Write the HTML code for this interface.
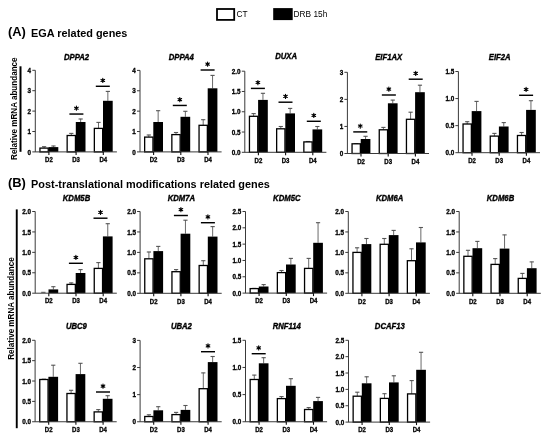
<!DOCTYPE html>
<html><head><meta charset="utf-8">
<style>
html,body{margin:0;padding:0;background:#fff;}
body{width:550px;height:441px;overflow:hidden;}
svg{display:block;will-change:transform;filter:blur(0.25px);}
text{font-family:"Liberation Sans", sans-serif;}
.t{font-weight:bold;font-style:italic;font-size:8.3px;text-anchor:middle;stroke:#000;stroke-width:0.35;}
.y{font-weight:bold;font-size:6.3px;text-anchor:end;stroke:#000;stroke-width:0.3;}
.x{font-weight:bold;font-size:6.5px;text-anchor:middle;stroke:#000;stroke-width:0.3;}
.a{stroke:#3a3a3a;stroke-width:1.0;fill:none;}
.xt{stroke:#111;stroke-width:1.1;fill:none;}
.e{stroke:#444;stroke-width:0.8;fill:none;}
.ec{stroke:#555;stroke-width:1.1;fill:none;}
.w{fill:#fff;stroke:#000;stroke-width:1.3;}
.s{stroke:#000;stroke-width:1.45;fill:none;}
.st{stroke:#000;stroke-width:1.1;fill:none;stroke-linecap:round;}
.h1{font-size:12.3px;font-weight:bold;}
.h2{font-weight:bold;font-size:10.88px;}
.lg{font-size:8.3px;}
.ya{font-size:8.8px;font-weight:bold;text-anchor:middle;}
</style></head>
<body>
<svg width="550" height="441" viewBox="0 0 550 441">
<rect x="0" y="0" width="550" height="441" fill="#fff"/>
<!-- legend -->
<rect x="217" y="9" width="17.2" height="10.9" fill="#fff" stroke="#000" stroke-width="1.8"/>
<text x="236.6" y="17" class="lg">CT</text>
<rect x="273.2" y="8.1" width="19.5" height="12" fill="#000"/>
<text x="293.6" y="17" class="lg">DRB 15h</text>
<!-- headings -->
<text transform="translate(7.9,35.9) scale(1.05,1)" class="h1">(A)</text>
<text x="31.1" y="36.6" class="h2">EGA related genes</text>
<text transform="translate(7.9,187.0) scale(1.05,1)" class="h1">(B)</text>
<text x="31.1" y="187.8" class="h2">Post-translational modifications related genes</text>
<!-- y axis titles -->
<text transform="translate(17.1,108.7) rotate(-90) scale(0.92,1)" class="ya">Relative mRNA abundance</text>
<rect x="19.5" y="66.3" width="2" height="85.5" fill="#000"/>
<text transform="translate(14.4,308.6) rotate(-90) scale(0.92,1)" class="ya">Relative mRNA abundance</text>
<rect x="15.8" y="209.4" width="1.9" height="218.8" fill="#000"/>
<text transform="translate(76.6,59.5) scale(0.93,1)" class="t">DPPA2</text>
<path d="M44.1 148.1V146.5" class="e"/><path d="M42 146.7H46.2" class="ec"/>
<path d="M53.45 147.1V145.8" class="e"/><path d="M51.35 146H55.55" class="ec"/>
<rect x="39.95" y="148.1" width="8.3" height="3.8" class="w"/>
<rect x="48.6" y="147.1" width="9.7" height="4.8" fill="#000"/>
<path d="M71.3 135.5V133.2" class="e"/><path d="M69.2 133.4H73.4" class="ec"/>
<path d="M80.65 122V118.8" class="e"/><path d="M78.55 119H82.75" class="ec"/>
<rect x="67.15" y="135.5" width="8.3" height="16.4" class="w"/>
<rect x="75.8" y="122" width="9.7" height="29.9" fill="#000"/>
<path d="M98.5 128.4V122.2" class="e"/><path d="M96.4 122.4H100.6" class="ec"/>
<path d="M107.85 100.8V91.2" class="e"/><path d="M105.75 91.4H109.95" class="ec"/>
<rect x="94.35" y="128.4" width="8.3" height="23.5" class="w"/>
<rect x="103" y="100.8" width="9.7" height="51.1" fill="#000"/>
<path d="M35.3 70.3V151.9M32.3 151.9H116.9" class="a"/>
<text x="31.1" y="154.5" class="y">0</text>
<path d="M32.3 131.5H35.3" class="a"/>
<text x="31.1" y="134.1" class="y">1</text>
<path d="M32.3 111.1H35.3" class="a"/>
<text x="31.1" y="113.7" class="y">2</text>
<path d="M32.3 90.7H35.3" class="a"/>
<text x="31.1" y="93.3" class="y">3</text>
<path d="M32.3 70.3H35.3" class="a"/>
<text x="31.1" y="72.9" class="y">4</text>
<path d="M48.9 151.9V154.9" class="xt"/>
<text transform="translate(48.9,162.1) scale(0.93,1)" class="x">D2</text>
<path d="M76.1 151.9V154.9" class="xt"/>
<text transform="translate(76.1,162.1) scale(0.93,1)" class="x">D3</text>
<path d="M103.3 151.9V154.9" class="xt"/>
<text transform="translate(103.3,162.1) scale(0.93,1)" class="x">D4</text>
<path d="M69.4 114.05H83.4" class="s"/>
<path d="M76.4 106.1V110.3M74.58 107.15L78.22 109.25M74.58 109.25L78.22 107.15" class="st"/><circle cx="76.4" cy="108.2" r="1.1"/>
<path d="M95.8 86.3H109.8" class="s"/>
<path d="M102.8 78.35V82.55M100.98 79.4L104.62 81.5M100.98 81.5L104.62 79.4" class="st"/><circle cx="102.8" cy="80.45" r="1.1"/>
<text transform="translate(181.3,59.5) scale(0.93,1)" class="t">DPPA4</text>
<path d="M148.8 137.1V134.8" class="e"/><path d="M146.7 135H150.9" class="ec"/>
<path d="M158.15 122V110.5" class="e"/><path d="M156.05 110.7H160.25" class="ec"/>
<rect x="144.65" y="137.1" width="8.3" height="14.8" class="w"/>
<rect x="153.3" y="122" width="9.7" height="29.9" fill="#000"/>
<path d="M176 134.6V132.3" class="e"/><path d="M173.9 132.5H178.1" class="ec"/>
<path d="M185.35 116.8V111.1" class="e"/><path d="M183.25 111.3H187.45" class="ec"/>
<rect x="171.85" y="134.6" width="8.3" height="17.3" class="w"/>
<rect x="180.5" y="116.8" width="9.7" height="35.1" fill="#000"/>
<path d="M203.2 125.3V119.5" class="e"/><path d="M201.1 119.7H205.3" class="ec"/>
<path d="M212.55 88.3V75.2" class="e"/><path d="M210.45 75.4H214.65" class="ec"/>
<rect x="199.05" y="125.3" width="8.3" height="26.6" class="w"/>
<rect x="207.7" y="88.3" width="9.7" height="63.6" fill="#000"/>
<path d="M140 70.4V151.9M137 151.9H221.6" class="a"/>
<text x="135.8" y="154.5" class="y">0</text>
<path d="M137 131.53H140" class="a"/>
<text x="135.8" y="134.12" class="y">1</text>
<path d="M137 111.15H140" class="a"/>
<text x="135.8" y="113.75" class="y">2</text>
<path d="M137 90.78H140" class="a"/>
<text x="135.8" y="93.38" class="y">3</text>
<path d="M137 70.4H140" class="a"/>
<text x="135.8" y="73" class="y">4</text>
<path d="M153.6 151.9V154.9" class="xt"/>
<text transform="translate(153.6,162.1) scale(0.93,1)" class="x">D2</text>
<path d="M180.8 151.9V154.9" class="xt"/>
<text transform="translate(180.8,162.1) scale(0.93,1)" class="x">D3</text>
<path d="M208 151.9V154.9" class="xt"/>
<text transform="translate(208,162.1) scale(0.93,1)" class="x">D4</text>
<path d="M172.8 105.45H186.8" class="s"/>
<path d="M179.8 97.5V101.7M177.98 98.55L181.62 100.65M177.98 100.65L181.62 98.55" class="st"/><circle cx="179.8" cy="99.6" r="1.1"/>
<path d="M200.6 70H214.6" class="s"/>
<path d="M207.6 62.05V66.25M205.78 63.1L209.42 65.2M205.78 65.2L209.42 63.1" class="st"/><circle cx="207.6" cy="64.15" r="1.1"/>
<text transform="translate(286.1,59) scale(0.93,1)" class="t">DUXA</text>
<path d="M253.6 116.3V113.4" class="e"/><path d="M251.5 113.6H255.7" class="ec"/>
<path d="M262.95 99.9V93.1" class="e"/><path d="M260.85 93.3H265.05" class="ec"/>
<rect x="249.45" y="116.3" width="8.3" height="36" class="w"/>
<rect x="258.1" y="99.9" width="9.7" height="52.4" fill="#000"/>
<path d="M280.8 128.8V126.3" class="e"/><path d="M278.7 126.5H282.9" class="ec"/>
<path d="M290.15 113.4V108.2" class="e"/><path d="M288.05 108.4H292.25" class="ec"/>
<rect x="276.65" y="128.8" width="8.3" height="23.5" class="w"/>
<rect x="285.3" y="113.4" width="9.7" height="38.9" fill="#000"/>
<path d="M308 141.9V141.3" class="e"/><path d="M305.9 141.5H310.1" class="ec"/>
<path d="M317.35 129.4V126.3" class="e"/><path d="M315.25 126.5H319.45" class="ec"/>
<rect x="303.85" y="141.9" width="8.3" height="10.4" class="w"/>
<rect x="312.5" y="129.4" width="9.7" height="22.9" fill="#000"/>
<path d="M244.8 71.2V152.3M241.8 152.3H326.4" class="a"/>
<text x="240.6" y="154.9" class="y">0.0</text>
<path d="M241.8 132.03H244.8" class="a"/>
<text x="240.6" y="134.62" class="y">0.5</text>
<path d="M241.8 111.75H244.8" class="a"/>
<text x="240.6" y="114.35" class="y">1.0</text>
<path d="M241.8 91.48H244.8" class="a"/>
<text x="240.6" y="94.08" class="y">1.5</text>
<path d="M241.8 71.2H244.8" class="a"/>
<text x="240.6" y="73.8" class="y">2.0</text>
<path d="M258.4 152.3V155.3" class="xt"/>
<text transform="translate(258.4,162.5) scale(0.93,1)" class="x">D2</text>
<path d="M285.6 152.3V155.3" class="xt"/>
<text transform="translate(285.6,162.5) scale(0.93,1)" class="x">D3</text>
<path d="M312.8 152.3V155.3" class="xt"/>
<text transform="translate(312.8,162.5) scale(0.93,1)" class="x">D4</text>
<path d="M250.9 88.4H264.9" class="s"/>
<path d="M257.9 80.45V84.65M256.08 81.5L259.72 83.6M256.08 83.6L259.72 81.5" class="st"/><circle cx="257.9" cy="82.55" r="1.1"/>
<path d="M278.5 102.2H292.5" class="s"/>
<path d="M285.5 94.25V98.45M283.68 95.3L287.32 97.4M283.68 97.4L287.32 95.3" class="st"/><circle cx="285.5" cy="96.35" r="1.1"/>
<path d="M306.8 121.3H320.8" class="s"/>
<path d="M313.8 113.35V117.55M311.98 114.4L315.62 116.5M311.98 116.5L315.62 114.4" class="st"/><circle cx="313.8" cy="115.45" r="1.1"/>
<text transform="translate(388.7,59.5) scale(0.93,1)" class="t">EIF1AX</text>
<path d="M356.2 143.8V143.4" class="e"/><path d="M354.1 143.6H358.3" class="ec"/>
<path d="M365.55 139V136.1" class="e"/><path d="M363.45 136.3H367.65" class="ec"/>
<rect x="352.05" y="143.8" width="8.3" height="9.7" class="w"/>
<rect x="360.7" y="139" width="9.7" height="14.5" fill="#000"/>
<path d="M383.4 129.8V127.2" class="e"/><path d="M381.3 127.4H385.5" class="ec"/>
<path d="M392.75 103.3V99.9" class="e"/><path d="M390.65 100.1H394.85" class="ec"/>
<rect x="379.25" y="129.8" width="8.3" height="23.7" class="w"/>
<rect x="387.9" y="103.3" width="9.7" height="50.2" fill="#000"/>
<path d="M410.6 119.3V112" class="e"/><path d="M408.5 112.2H412.7" class="ec"/>
<path d="M419.95 92.2V85" class="e"/><path d="M417.85 85.2H422.05" class="ec"/>
<rect x="406.45" y="119.3" width="8.3" height="34.2" class="w"/>
<rect x="415.1" y="92.2" width="9.7" height="61.3" fill="#000"/>
<path d="M347.4 72.3V153.5M344.4 153.5H429" class="a"/>
<text x="343.2" y="156.1" class="y">0</text>
<path d="M344.4 126.43H347.4" class="a"/>
<text x="343.2" y="129.03" class="y">1</text>
<path d="M344.4 99.37H347.4" class="a"/>
<text x="343.2" y="101.97" class="y">2</text>
<path d="M344.4 72.3H347.4" class="a"/>
<text x="343.2" y="74.9" class="y">3</text>
<path d="M361 153.5V156.5" class="xt"/>
<text transform="translate(361,163.7) scale(0.93,1)" class="x">D2</text>
<path d="M388.2 153.5V156.5" class="xt"/>
<text transform="translate(388.2,163.7) scale(0.93,1)" class="x">D3</text>
<path d="M415.4 153.5V156.5" class="xt"/>
<text transform="translate(415.4,163.7) scale(0.93,1)" class="x">D4</text>
<path d="M353.25 131.9H367.25" class="s"/>
<path d="M360.25 123.95V128.15M358.43 125L362.07 127.1M358.43 127.1L362.07 125" class="st"/><circle cx="360.25" cy="126.05" r="1.1"/>
<path d="M381.85 95H395.85" class="s"/>
<path d="M388.85 87.05V91.25M387.03 88.1L390.67 90.2M387.03 90.2L390.67 88.1" class="st"/><circle cx="388.85" cy="89.15" r="1.1"/>
<path d="M408.7 79.2H422.7" class="s"/>
<path d="M415.7 71.25V75.45M413.88 72.3L417.52 74.4M413.88 74.4L417.52 72.3" class="st"/><circle cx="415.7" cy="73.35" r="1.1"/>
<text transform="translate(499.7,59.5) scale(0.93,1)" class="t">EIF2A</text>
<path d="M467.2 124V121.5" class="e"/><path d="M465.1 121.7H469.3" class="ec"/>
<path d="M476.55 111.1V101.2" class="e"/><path d="M474.45 101.4H478.65" class="ec"/>
<rect x="463.05" y="124" width="8.3" height="28.7" class="w"/>
<rect x="471.7" y="111.1" width="9.7" height="41.6" fill="#000"/>
<path d="M494.4 136.1V133.2" class="e"/><path d="M492.3 133.4H496.5" class="ec"/>
<path d="M503.75 126.5V122.4" class="e"/><path d="M501.65 122.6H505.85" class="ec"/>
<rect x="490.25" y="136.1" width="8.3" height="16.6" class="w"/>
<rect x="498.9" y="126.5" width="9.7" height="26.2" fill="#000"/>
<path d="M521.6 135.5V132.3" class="e"/><path d="M519.5 132.5H523.7" class="ec"/>
<path d="M530.95 109.9V100.5" class="e"/><path d="M528.85 100.7H533.05" class="ec"/>
<rect x="517.45" y="135.5" width="8.3" height="17.2" class="w"/>
<rect x="526.1" y="109.9" width="9.7" height="42.8" fill="#000"/>
<path d="M458.4 71.5V152.7M455.4 152.7H540" class="a"/>
<text x="454.2" y="155.3" class="y">0.0</text>
<path d="M455.4 125.63H458.4" class="a"/>
<text x="454.2" y="128.23" class="y">0.5</text>
<path d="M455.4 98.57H458.4" class="a"/>
<text x="454.2" y="101.17" class="y">1.0</text>
<path d="M455.4 71.5H458.4" class="a"/>
<text x="454.2" y="74.1" class="y">1.5</text>
<path d="M472 152.7V155.7" class="xt"/>
<text transform="translate(472,162.9) scale(0.93,1)" class="x">D2</text>
<path d="M499.2 152.7V155.7" class="xt"/>
<text transform="translate(499.2,162.9) scale(0.93,1)" class="x">D3</text>
<path d="M526.4 152.7V155.7" class="xt"/>
<text transform="translate(526.4,162.9) scale(0.93,1)" class="x">D4</text>
<path d="M519.1 95.3H533.1" class="s"/>
<path d="M526.1 87.35V91.55M524.28 88.4L527.92 90.5M524.28 90.5L527.92 88.4" class="st"/><circle cx="526.1" cy="89.45" r="1.1"/>
<text transform="translate(76.5,200.6) scale(0.93,1)" class="t">KDM5B</text>
<path d="M53.35 289.4V286.5" class="e"/><path d="M51.25 286.7H55.45" class="ec"/>
<path d="M41.2 292.3H45.5" stroke="#444" stroke-width="0.9"/>
<rect x="48.5" y="289.4" width="9.7" height="3.8" fill="#000"/>
<path d="M71.2 284.4V282.7" class="e"/><path d="M69.1 282.9H73.3" class="ec"/>
<path d="M80.55 273V269.4" class="e"/><path d="M78.45 269.6H82.65" class="ec"/>
<rect x="67.05" y="284.4" width="8.3" height="8.8" class="w"/>
<rect x="75.7" y="273" width="9.7" height="20.2" fill="#000"/>
<path d="M98.4 268.4V262.4" class="e"/><path d="M96.3 262.6H100.5" class="ec"/>
<path d="M107.75 236.4V223.5" class="e"/><path d="M105.65 223.7H109.85" class="ec"/>
<rect x="94.25" y="268.4" width="8.3" height="24.8" class="w"/>
<rect x="102.9" y="236.4" width="9.7" height="56.8" fill="#000"/>
<path d="M35.2 211.5V293.2M32.2 293.2H116.8" class="a"/>
<text x="31" y="295.8" class="y">0.0</text>
<path d="M32.2 272.77H35.2" class="a"/>
<text x="31" y="275.38" class="y">0.5</text>
<path d="M32.2 252.35H35.2" class="a"/>
<text x="31" y="254.95" class="y">1.0</text>
<path d="M32.2 231.93H35.2" class="a"/>
<text x="31" y="234.53" class="y">1.5</text>
<path d="M32.2 211.5H35.2" class="a"/>
<text x="31" y="214.1" class="y">2.0</text>
<path d="M48.8 293.2V296.2" class="xt"/>
<text transform="translate(48.8,303.4) scale(0.93,1)" class="x">D2</text>
<path d="M76 293.2V296.2" class="xt"/>
<text transform="translate(76,303.4) scale(0.93,1)" class="x">D3</text>
<path d="M103.2 293.2V296.2" class="xt"/>
<text transform="translate(103.2,303.4) scale(0.93,1)" class="x">D4</text>
<path d="M68.9 263.3H82.9" class="s"/>
<path d="M75.9 255.35V259.55M74.08 256.4L77.72 258.5M74.08 258.5L77.72 256.4" class="st"/><circle cx="75.9" cy="257.45" r="1.1"/>
<path d="M93.5 218.2H107.5" class="s"/>
<path d="M100.5 210.25V214.45M98.68 211.3L102.32 213.4M98.68 213.4L102.32 211.3" class="st"/><circle cx="100.5" cy="212.35" r="1.1"/>
<text transform="translate(181.4,200.6) scale(0.93,1)" class="t">KDM7A</text>
<path d="M148.9 258.8V251.8" class="e"/><path d="M146.8 252H151" class="ec"/>
<path d="M158.25 251.1V246.2" class="e"/><path d="M156.15 246.4H160.35" class="ec"/>
<rect x="144.75" y="258.8" width="8.3" height="34.5" class="w"/>
<rect x="153.4" y="251.1" width="9.7" height="42.2" fill="#000"/>
<path d="M176.1 271.7V269.4" class="e"/><path d="M174 269.6H178.2" class="ec"/>
<path d="M185.45 233.7V220" class="e"/><path d="M183.35 220.2H187.55" class="ec"/>
<rect x="171.95" y="271.7" width="8.3" height="21.6" class="w"/>
<rect x="180.6" y="233.7" width="9.7" height="59.6" fill="#000"/>
<path d="M203.3 265.5V260.5" class="e"/><path d="M201.2 260.7H205.4" class="ec"/>
<path d="M212.65 236.6V226.4" class="e"/><path d="M210.55 226.6H214.75" class="ec"/>
<rect x="199.15" y="265.5" width="8.3" height="27.8" class="w"/>
<rect x="207.8" y="236.6" width="9.7" height="56.7" fill="#000"/>
<path d="M140.1 211.5V293.3M137.1 293.3H221.7" class="a"/>
<text x="135.9" y="295.9" class="y">0.0</text>
<path d="M137.1 272.85H140.1" class="a"/>
<text x="135.9" y="275.45" class="y">0.5</text>
<path d="M137.1 252.4H140.1" class="a"/>
<text x="135.9" y="255" class="y">1.0</text>
<path d="M137.1 231.95H140.1" class="a"/>
<text x="135.9" y="234.55" class="y">1.5</text>
<path d="M137.1 211.5H140.1" class="a"/>
<text x="135.9" y="214.1" class="y">2.0</text>
<path d="M153.7 293.3V296.3" class="xt"/>
<text transform="translate(153.7,303.5) scale(0.93,1)" class="x">D2</text>
<path d="M180.9 293.3V296.3" class="xt"/>
<text transform="translate(180.9,303.5) scale(0.93,1)" class="x">D3</text>
<path d="M208.1 293.3V296.3" class="xt"/>
<text transform="translate(208.1,303.5) scale(0.93,1)" class="x">D4</text>
<path d="M173.9 215.5H187.9" class="s"/>
<path d="M180.9 207.55V211.75M179.08 208.6L182.72 210.7M179.08 210.7L182.72 208.6" class="st"/><circle cx="180.9" cy="209.65" r="1.1"/>
<path d="M200.9 222.7H214.9" class="s"/>
<path d="M207.9 214.75V218.95M206.08 215.8L209.72 217.9M206.08 217.9L209.72 215.8" class="st"/><circle cx="207.9" cy="216.85" r="1.1"/>
<text transform="translate(286.8,200.6) scale(0.93,1)" class="t">KDM5C</text>
<path d="M254.3 288.6V288.2" class="e"/><path d="M252.2 288.4H256.4" class="ec"/>
<path d="M263.65 286.5V284.4" class="e"/><path d="M261.55 284.6H265.75" class="ec"/>
<rect x="250.15" y="288.6" width="8.3" height="4.5" class="w"/>
<rect x="258.8" y="286.5" width="9.7" height="6.6" fill="#000"/>
<path d="M281.5 272.6V270.3" class="e"/><path d="M279.4 270.5H283.6" class="ec"/>
<path d="M290.85 264.5V258.2" class="e"/><path d="M288.75 258.4H292.95" class="ec"/>
<rect x="277.35" y="272.6" width="8.3" height="20.5" class="w"/>
<rect x="286" y="264.5" width="9.7" height="28.6" fill="#000"/>
<path d="M308.7 268.4V258.2" class="e"/><path d="M306.6 258.4H310.8" class="ec"/>
<path d="M318.05 242.8V222.5" class="e"/><path d="M315.95 222.7H320.15" class="ec"/>
<rect x="304.55" y="268.4" width="8.3" height="24.7" class="w"/>
<rect x="313.2" y="242.8" width="9.7" height="50.3" fill="#000"/>
<path d="M245.5 211.5V293.1M242.5 293.1H327.1" class="a"/>
<text x="241.3" y="295.7" class="y">0.0</text>
<path d="M242.5 276.78H245.5" class="a"/>
<text x="241.3" y="279.38" class="y">0.5</text>
<path d="M242.5 260.46H245.5" class="a"/>
<text x="241.3" y="263.06" class="y">1.0</text>
<path d="M242.5 244.14H245.5" class="a"/>
<text x="241.3" y="246.74" class="y">1.5</text>
<path d="M242.5 227.82H245.5" class="a"/>
<text x="241.3" y="230.42" class="y">2.0</text>
<path d="M242.5 211.5H245.5" class="a"/>
<text x="241.3" y="214.1" class="y">2.5</text>
<path d="M259.1 293.1V296.1" class="xt"/>
<text transform="translate(259.1,303.3) scale(0.93,1)" class="x">D2</text>
<path d="M286.3 293.1V296.1" class="xt"/>
<text transform="translate(286.3,303.3) scale(0.93,1)" class="x">D3</text>
<path d="M313.5 293.1V296.1" class="xt"/>
<text transform="translate(313.5,303.3) scale(0.93,1)" class="x">D4</text>
<text transform="translate(389.6,200.6) scale(0.93,1)" class="t">KDM6A</text>
<path d="M357.1 252.4V247.6" class="e"/><path d="M355 247.8H359.2" class="ec"/>
<path d="M366.45 244.1V238.3" class="e"/><path d="M364.35 238.5H368.55" class="ec"/>
<rect x="352.95" y="252.4" width="8.3" height="40.9" class="w"/>
<rect x="361.6" y="244.1" width="9.7" height="49.2" fill="#000"/>
<path d="M384.3 244.3V238.3" class="e"/><path d="M382.2 238.5H386.4" class="ec"/>
<path d="M393.65 235.1V230.2" class="e"/><path d="M391.55 230.4H395.75" class="ec"/>
<rect x="380.15" y="244.3" width="8.3" height="49" class="w"/>
<rect x="388.8" y="235.1" width="9.7" height="58.2" fill="#000"/>
<path d="M411.5 260.7V248.6" class="e"/><path d="M409.4 248.8H413.6" class="ec"/>
<path d="M420.85 242.4V227.3" class="e"/><path d="M418.75 227.5H422.95" class="ec"/>
<rect x="407.35" y="260.7" width="8.3" height="32.6" class="w"/>
<rect x="416" y="242.4" width="9.7" height="50.9" fill="#000"/>
<path d="M348.3 211.5V293.3M345.3 293.3H429.9" class="a"/>
<text x="344.1" y="295.9" class="y">0.0</text>
<path d="M345.3 272.85H348.3" class="a"/>
<text x="344.1" y="275.45" class="y">0.5</text>
<path d="M345.3 252.4H348.3" class="a"/>
<text x="344.1" y="255" class="y">1.0</text>
<path d="M345.3 231.95H348.3" class="a"/>
<text x="344.1" y="234.55" class="y">1.5</text>
<path d="M345.3 211.5H348.3" class="a"/>
<text x="344.1" y="214.1" class="y">2.0</text>
<path d="M361.9 293.3V296.3" class="xt"/>
<text transform="translate(361.9,303.5) scale(0.93,1)" class="x">D2</text>
<path d="M389.1 293.3V296.3" class="xt"/>
<text transform="translate(389.1,303.5) scale(0.93,1)" class="x">D3</text>
<path d="M416.3 293.3V296.3" class="xt"/>
<text transform="translate(416.3,303.5) scale(0.93,1)" class="x">D4</text>
<text transform="translate(500.5,200.6) scale(0.93,1)" class="t">KDM6B</text>
<path d="M468 256.3V250.1" class="e"/><path d="M465.9 250.3H470.1" class="ec"/>
<path d="M477.35 248.2V241.2" class="e"/><path d="M475.25 241.4H479.45" class="ec"/>
<rect x="463.85" y="256.3" width="8.3" height="37" class="w"/>
<rect x="472.5" y="248.2" width="9.7" height="45.1" fill="#000"/>
<path d="M495.2 264.4V258.4" class="e"/><path d="M493.1 258.6H497.3" class="ec"/>
<path d="M504.55 248.6V234.7" class="e"/><path d="M502.45 234.9H506.65" class="ec"/>
<rect x="491.05" y="264.4" width="8.3" height="28.9" class="w"/>
<rect x="499.7" y="248.6" width="9.7" height="44.7" fill="#000"/>
<path d="M522.4 278.4V273.2" class="e"/><path d="M520.3 273.4H524.5" class="ec"/>
<path d="M531.75 268.2V261.7" class="e"/><path d="M529.65 261.9H533.85" class="ec"/>
<rect x="518.25" y="278.4" width="8.3" height="14.9" class="w"/>
<rect x="526.9" y="268.2" width="9.7" height="25.1" fill="#000"/>
<path d="M459.2 211.5V293.3M456.2 293.3H540.8" class="a"/>
<text x="455" y="295.9" class="y">0.0</text>
<path d="M456.2 272.85H459.2" class="a"/>
<text x="455" y="275.45" class="y">0.5</text>
<path d="M456.2 252.4H459.2" class="a"/>
<text x="455" y="255" class="y">1.0</text>
<path d="M456.2 231.95H459.2" class="a"/>
<text x="455" y="234.55" class="y">1.5</text>
<path d="M456.2 211.5H459.2" class="a"/>
<text x="455" y="214.1" class="y">2.0</text>
<path d="M472.8 293.3V296.3" class="xt"/>
<text transform="translate(472.8,303.5) scale(0.93,1)" class="x">D2</text>
<path d="M500 293.3V296.3" class="xt"/>
<text transform="translate(500,303.5) scale(0.93,1)" class="x">D3</text>
<path d="M527.2 293.3V296.3" class="xt"/>
<text transform="translate(527.2,303.5) scale(0.93,1)" class="x">D4</text>
<text transform="translate(76.4,329.4) scale(0.93,1)" class="t">UBC9</text>
<path d="M43.9 379.5V379" class="e"/><path d="M41.8 379.2H46" class="ec"/>
<path d="M53.25 376.8V365" class="e"/><path d="M51.15 365.2H55.35" class="ec"/>
<rect x="39.75" y="379.5" width="8.3" height="42.25" class="w"/>
<rect x="48.4" y="376.8" width="9.7" height="44.95" fill="#000"/>
<path d="M71.1 393.5V390.1" class="e"/><path d="M69 390.3H73.2" class="ec"/>
<path d="M80.45 374.1V363.1" class="e"/><path d="M78.35 363.3H82.55" class="ec"/>
<rect x="66.95" y="393.5" width="8.3" height="28.25" class="w"/>
<rect x="75.6" y="374.1" width="9.7" height="47.65" fill="#000"/>
<path d="M98.3 411.9V409.4" class="e"/><path d="M96.2 409.6H100.4" class="ec"/>
<path d="M107.65 398.8V395.5" class="e"/><path d="M105.55 395.7H109.75" class="ec"/>
<rect x="94.15" y="411.9" width="8.3" height="9.85" class="w"/>
<rect x="102.8" y="398.8" width="9.7" height="22.95" fill="#000"/>
<path d="M35.1 340.3V421.75M32.1 421.75H116.7" class="a"/>
<text x="30.9" y="424.35" class="y">0.0</text>
<path d="M32.1 401.39H35.1" class="a"/>
<text x="30.9" y="403.99" class="y">0.5</text>
<path d="M32.1 381.02H35.1" class="a"/>
<text x="30.9" y="383.62" class="y">1.0</text>
<path d="M32.1 360.66H35.1" class="a"/>
<text x="30.9" y="363.26" class="y">1.5</text>
<path d="M32.1 340.3H35.1" class="a"/>
<text x="30.9" y="342.9" class="y">2.0</text>
<path d="M48.7 421.75V424.75" class="xt"/>
<text transform="translate(48.7,431.95) scale(0.93,1)" class="x">D2</text>
<path d="M75.9 421.75V424.75" class="xt"/>
<text transform="translate(75.9,431.95) scale(0.93,1)" class="x">D3</text>
<path d="M103.1 421.75V424.75" class="xt"/>
<text transform="translate(103.1,431.95) scale(0.93,1)" class="x">D4</text>
<path d="M96 392H110" class="s"/>
<path d="M103 384.05V388.25M101.18 385.1L104.82 387.2M101.18 387.2L104.82 385.1" class="st"/><circle cx="103" cy="386.15" r="1.1"/>
<text transform="translate(181.4,329.4) scale(0.93,1)" class="t">UBA2</text>
<path d="M148.9 416.5V414.6" class="e"/><path d="M146.8 414.8H151" class="ec"/>
<path d="M158.25 410.3V406.5" class="e"/><path d="M156.15 406.7H160.35" class="ec"/>
<rect x="144.75" y="416.5" width="8.3" height="5.25" class="w"/>
<rect x="153.4" y="410.3" width="9.7" height="11.45" fill="#000"/>
<path d="M176.1 414.6V412.2" class="e"/><path d="M174 412.4H178.2" class="ec"/>
<path d="M185.45 409.9V405.3" class="e"/><path d="M183.35 405.5H187.55" class="ec"/>
<rect x="171.95" y="414.6" width="8.3" height="7.15" class="w"/>
<rect x="180.6" y="409.9" width="9.7" height="11.85" fill="#000"/>
<path d="M203.3 388.7V372.7" class="e"/><path d="M201.2 372.9H205.4" class="ec"/>
<path d="M212.65 362.1V356.3" class="e"/><path d="M210.55 356.5H214.75" class="ec"/>
<rect x="199.15" y="388.7" width="8.3" height="33.05" class="w"/>
<rect x="207.8" y="362.1" width="9.7" height="59.65" fill="#000"/>
<path d="M140.1 340.4V421.75M137.1 421.75H221.7" class="a"/>
<text x="135.9" y="424.35" class="y">0</text>
<path d="M137.1 394.63H140.1" class="a"/>
<text x="135.9" y="397.23" class="y">1</text>
<path d="M137.1 367.52H140.1" class="a"/>
<text x="135.9" y="370.12" class="y">2</text>
<path d="M137.1 340.4H140.1" class="a"/>
<text x="135.9" y="343" class="y">3</text>
<path d="M153.7 421.75V424.75" class="xt"/>
<text transform="translate(153.7,431.95) scale(0.93,1)" class="x">D2</text>
<path d="M180.9 421.75V424.75" class="xt"/>
<text transform="translate(180.9,431.95) scale(0.93,1)" class="x">D3</text>
<path d="M208.1 421.75V424.75" class="xt"/>
<text transform="translate(208.1,431.95) scale(0.93,1)" class="x">D4</text>
<path d="M201 351.7H215" class="s"/>
<path d="M208 343.75V347.95M206.18 344.8L209.82 346.9M206.18 346.9L209.82 344.8" class="st"/><circle cx="208" cy="345.85" r="1.1"/>
<text transform="translate(286.8,329.4) scale(0.93,1)" class="t">RNF114</text>
<path d="M254.3 379.5V374.9" class="e"/><path d="M252.2 375.1H256.4" class="ec"/>
<path d="M263.65 363.3V357.5" class="e"/><path d="M261.55 357.7H265.75" class="ec"/>
<rect x="250.15" y="379.5" width="8.3" height="42.25" class="w"/>
<rect x="258.8" y="363.3" width="9.7" height="58.45" fill="#000"/>
<path d="M281.5 398.6V396.4" class="e"/><path d="M279.4 396.6H283.6" class="ec"/>
<path d="M290.85 385.8V378.5" class="e"/><path d="M288.75 378.7H292.95" class="ec"/>
<rect x="277.35" y="398.6" width="8.3" height="23.15" class="w"/>
<rect x="286" y="385.8" width="9.7" height="35.95" fill="#000"/>
<path d="M308.7 409.5V407.4" class="e"/><path d="M306.6 407.6H310.8" class="ec"/>
<path d="M318.05 401.1V397.2" class="e"/><path d="M315.95 397.4H320.15" class="ec"/>
<rect x="304.55" y="409.5" width="8.3" height="12.25" class="w"/>
<rect x="313.2" y="401.1" width="9.7" height="20.65" fill="#000"/>
<path d="M245.5 340.3V421.75M242.5 421.75H327.1" class="a"/>
<text x="241.3" y="424.35" class="y">0.0</text>
<path d="M242.5 394.6H245.5" class="a"/>
<text x="241.3" y="397.2" class="y">0.5</text>
<path d="M242.5 367.45H245.5" class="a"/>
<text x="241.3" y="370.05" class="y">1.0</text>
<path d="M242.5 340.3H245.5" class="a"/>
<text x="241.3" y="342.9" class="y">1.5</text>
<path d="M259.1 421.75V424.75" class="xt"/>
<text transform="translate(259.1,431.95) scale(0.93,1)" class="x">D2</text>
<path d="M286.3 421.75V424.75" class="xt"/>
<text transform="translate(286.3,431.95) scale(0.93,1)" class="x">D3</text>
<path d="M313.5 421.75V424.75" class="xt"/>
<text transform="translate(313.5,431.95) scale(0.93,1)" class="x">D4</text>
<path d="M251.7 353.7H265.7" class="s"/>
<path d="M258.7 345.75V349.95M256.88 346.8L260.52 348.9M256.88 348.9L260.52 346.8" class="st"/><circle cx="258.7" cy="347.85" r="1.1"/>
<text transform="translate(389.8,329.4) scale(0.93,1)" class="t">DCAF13</text>
<path d="M357.3 396.2V392" class="e"/><path d="M355.2 392.2H359.4" class="ec"/>
<path d="M366.65 383.3V376.6" class="e"/><path d="M364.55 376.8H368.75" class="ec"/>
<rect x="353.15" y="396.2" width="8.3" height="25.9" class="w"/>
<rect x="361.8" y="383.3" width="9.7" height="38.8" fill="#000"/>
<path d="M384.5 398.4V393.5" class="e"/><path d="M382.4 393.7H386.6" class="ec"/>
<path d="M393.85 382.4V375.6" class="e"/><path d="M391.75 375.8H395.95" class="ec"/>
<rect x="380.35" y="398.4" width="8.3" height="23.7" class="w"/>
<rect x="389" y="382.4" width="9.7" height="39.7" fill="#000"/>
<path d="M411.7 393.9V380.4" class="e"/><path d="M409.6 380.6H413.8" class="ec"/>
<path d="M421.05 369.8V352.1" class="e"/><path d="M418.95 352.3H423.15" class="ec"/>
<rect x="407.55" y="393.9" width="8.3" height="28.2" class="w"/>
<rect x="416.2" y="369.8" width="9.7" height="52.3" fill="#000"/>
<path d="M348.5 340.3V422.1M345.5 422.1H430.1" class="a"/>
<text x="344.3" y="424.7" class="y">0.0</text>
<path d="M345.5 405.74H348.5" class="a"/>
<text x="344.3" y="408.34" class="y">0.5</text>
<path d="M345.5 389.38H348.5" class="a"/>
<text x="344.3" y="391.98" class="y">1.0</text>
<path d="M345.5 373.02H348.5" class="a"/>
<text x="344.3" y="375.62" class="y">1.5</text>
<path d="M345.5 356.66H348.5" class="a"/>
<text x="344.3" y="359.26" class="y">2.0</text>
<path d="M345.5 340.3H348.5" class="a"/>
<text x="344.3" y="342.9" class="y">2.5</text>
<path d="M362.1 422.1V425.1" class="xt"/>
<text transform="translate(362.1,432.3) scale(0.93,1)" class="x">D2</text>
<path d="M389.3 422.1V425.1" class="xt"/>
<text transform="translate(389.3,432.3) scale(0.93,1)" class="x">D3</text>
<path d="M416.5 422.1V425.1" class="xt"/>
<text transform="translate(416.5,432.3) scale(0.93,1)" class="x">D4</text>
</svg>
</body></html>
